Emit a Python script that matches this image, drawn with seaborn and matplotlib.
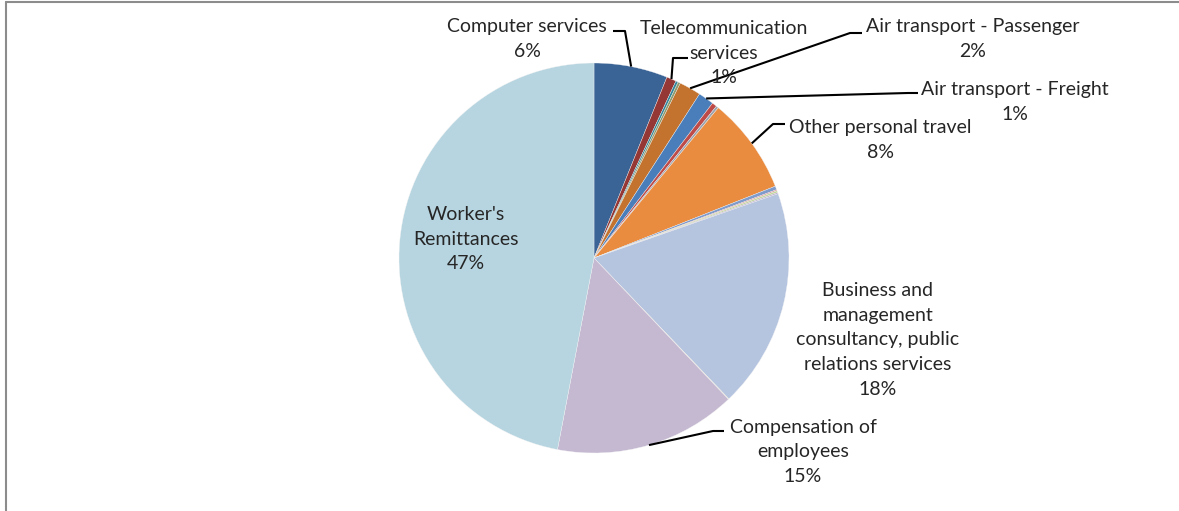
import numpy as np
import matplotlib
matplotlib.use("Agg")
import matplotlib.pyplot as plt
from matplotlib.lines import Line2D
import seaborn as sns

# Services and transfers, share of total (%), clockwise from 12 o'clock
categories = [
    "Computer services", "Telecommunication services", "Postal and courier services",
    "Construction services", "Air transport - Passenger", "Air transport - Freight",
    "Sea transport - Freight", "Other transport", "Other personal travel",
    "Business travel", "Insurance services", "Financial services",
    "Royalties and license fees",
    "Business and management consultancy, public relations services",
    "Government services", "Compensation of employees", "Worker's Remittances",
]
shares = [6.1, 0.8, 0.2, 0.2, 1.8, 1.3, 0.4, 0.2, 8.0,
          0.3, 0.1, 0.15, 0.1, 18.2, 0.05, 15.1, 47.0]
colors = ["#3B6496", "#953735", "#31859C", "#8E9A6B", "#C4732F", "#4A7EBB",
          "#BE4B48", "#9AA3AE", "#EA8C40", "#7E9BCB", "#D99694", "#C3D69B",
          "#B2A1C7", "#B5C4DF", "#D7CFB0", "#C5B9D2", "#B7D5E0"]

# Wrapped label text for the slices that carry a label
label_text = {
    "Computer services": "Computer services",
    "Telecommunication services": "Telecommunication\nservices",
    "Air transport - Passenger": "Air transport - Passenger",
    "Air transport - Freight": "Air transport - Freight",
    "Other personal travel": "Other personal travel",
    "Business and management consultancy, public relations services":
        "Business and\nmanagement\nconsultancy, public\nrelations services",
    "Compensation of employees": "Compensation of\nemployees",
    "Worker's Remittances": "Worker's\nRemittances",
}

W, H = 1179, 511
CENTER = (594, 258)   # pixel position of the pie centre
RADIUS = 195

# label centre and leader-line elbow (pixels, y measured from the top)
label_layout = {
    "Computer services": ((527, 39), [(613, 31), (625, 31)]),
    "Telecommunication services": ((724, 53), [(688, 58), (673, 58)]),
    "Air transport - Passenger": ((973, 39), [(862, 33), (850, 33)]),
    "Air transport - Freight": ((1015, 102), [(918, 93), (908, 93)]),
    "Other personal travel": ((880, 140), [(785, 124), (773, 124)]),
    "Business and management consultancy, public relations services": ((878, 340), None),
    "Compensation of employees": ((803, 452), [(724, 431), (713, 431)]),
    "Worker's Remittances": ((466, 239), None),
}

sns.set_theme(style="white")
plt.rcParams["font.family"] = ["Lato", "DejaVu Sans"]

fig = plt.figure(figsize=(W / 100, H / 100), dpi=100)
ax = fig.add_axes([0, 0, 1, 1])


def fy(y):
    return H - y


wedges, _ = ax.pie(
    shares, colors=colors, startangle=90, counterclock=False,
    center=(CENTER[0], fy(CENTER[1])), radius=RADIUS,
    wedgeprops=dict(edgecolor="#f4f4f4", linewidth=0.25),
)
ax.set_xlim(0, W)
ax.set_ylim(0, H)
ax.axis("off")

total = sum(shares)
for cat, share, wedge in zip(categories, shares, wedges):
    if cat not in label_layout:
        continue
    (tx, ty), elbow = label_layout[cat]
    pct = round(100 * share / total)
    ax.text(tx, fy(ty), f"{label_text[cat]}\n{pct}%", ha="center", va="center",
            fontsize=14, color="#262626", linespacing=1.55)
    if elbow:
        mid = np.deg2rad((wedge.theta1 + wedge.theta2) / 2)
        ax_pt = (wedge.center[0] + wedge.r * np.cos(mid),
                 wedge.center[1] + wedge.r * np.sin(mid))
        xs = [p[0] for p in elbow] + [ax_pt[0]]
        ys = [fy(p[1]) for p in elbow] + [ax_pt[1]]
        ax.plot(xs, ys, color="black", lw=1.5, solid_capstyle="butt")

# chart-area border along the top and left edges
fig.add_artist(Line2D([5.5 / W, 5.5 / W], [0, 1 - 2.5 / H], transform=fig.transFigure,
                      color="#8c8c8c", lw=1.5))
fig.add_artist(Line2D([5.5 / W, 1], [1 - 2.5 / H, 1 - 2.5 / H], transform=fig.transFigure,
                      color="#8c8c8c", lw=1.5))

fig.savefig("out.png", dpi=100, facecolor="white")
